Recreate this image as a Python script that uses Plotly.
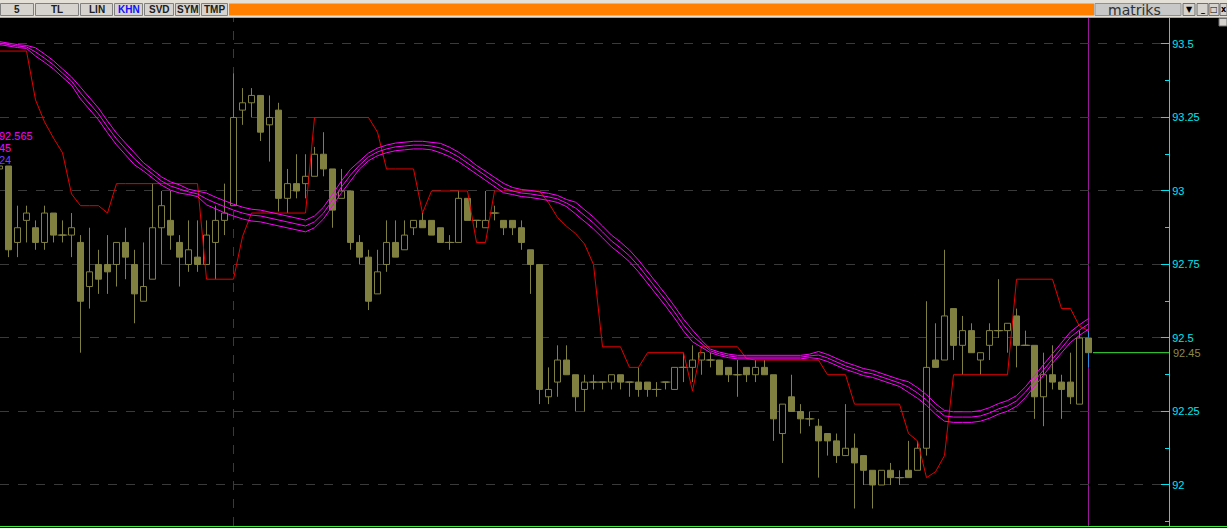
import plotly.graph_objects as go

# ---------------- data ----------------
bar_index = list(range(-1, 121))

opens = [93.075,
 93.085, 92.825, 92.90, 92.875, 92.825, 92.925, 92.85, 92.85, 92.825, 92.675,
 92.75, 92.75, 92.75, 92.825, 92.75, 92.625, 92.70, 92.875, 92.90, 92.825,
 92.75, 92.775, 92.75, 92.825, 92.90, 92.95, 93.275, 93.30, 93.325, 93.225,
 93.275, 92.975, 93.025, 93.025, 93.05, 93.125, 93.075, 92.975, 93.00, 92.825,
 92.775, 92.65, 92.75, 92.825, 92.80, 92.875, 92.90, 92.90, 92.875, 92.825,
 92.825, 92.975, 92.90, 92.875, 92.925, 92.90, 92.90, 92.875, 92.80, 92.75,
 92.30, 92.35, 92.425, 92.375, 92.325, 92.35, 92.35, 92.35, 92.375, 92.35,
 92.35, 92.35, 92.325, 92.35, 92.325, 92.40, 92.40, 92.425, 92.425, 92.425,
 92.40, 92.375, 92.40, 92.375, 92.40, 92.375, 92.175, 92.30, 92.25, 92.225,
 92.20, 92.175, 92.15, 92.10, 92.125, 92.10, 92.05, 92.00, 92.05, 92.025,
 92.05, 92.05, 92.125, 92.425, 92.425, 92.60, 92.475, 92.525, 92.425, 92.475,
 92.525, 92.525, 92.575, 92.475, 92.475, 92.30, 92.375, 92.35, 92.35, 92.275,
 92.50]

highs = [93.09,
 93.085, 92.95, 92.95, 92.90, 92.95, 92.925, 92.90, 92.925, 92.85, 92.875,
 92.80, 92.85, 92.825, 92.875, 92.80, 92.825, 93.025, 93.00, 93.00, 92.85,
 92.90, 92.90, 92.90, 92.95, 93.025, 93.40, 93.35, 93.35, 93.325, 93.325,
 93.30, 93.075, 93.125, 93.125, 93.15, 93.20, 93.075, 93.075, 93.00, 92.85,
 92.80, 92.80, 92.90, 92.90, 92.90, 92.90, 92.925, 92.90, 92.875, 92.85,
 93.00, 92.975, 92.90, 93.00, 92.95, 92.90, 92.90, 92.90, 92.80, 92.75,
 92.40, 92.475, 92.475, 92.375, 92.375, 92.375, 92.35, 92.375, 92.375, 92.35,
 92.40, 92.35, 92.35, 92.35, 92.40, 92.45, 92.475, 92.45, 92.45, 92.425,
 92.40, 92.425, 92.40, 92.425, 92.425, 92.375, 92.275, 92.375, 92.275, 92.25,
 92.225, 92.175, 92.175, 92.275, 92.175, 92.10, 92.05, 92.05, 92.075, 92.05,
 92.15, 92.15, 92.625, 92.55, 92.80, 92.60, 92.575, 92.55, 92.45, 92.55,
 92.70, 92.55, 92.60, 92.525, 92.475, 92.45, 92.475, 92.375, 92.45, 92.525,
 92.525]

lows = [93.07,
 92.775, 92.775, 92.825, 92.80, 92.80, 92.825, 92.825, 92.775, 92.45, 92.60,
 92.65, 92.65, 92.675, 92.70, 92.55, 92.625, 92.70, 92.75, 92.80, 92.675,
 92.725, 92.725, 92.75, 92.70, 92.85, 92.95, 93.225, 93.25, 93.17, 93.10,
 92.93, 92.925, 92.975, 92.975, 93.05, 93.05, 92.875, 92.975, 92.80, 92.75,
 92.595, 92.65, 92.725, 92.775, 92.80, 92.85, 92.875, 92.85, 92.825, 92.80,
 92.825, 92.90, 92.875, 92.875, 92.90, 92.85, 92.85, 92.80, 92.65, 92.275,
 92.275, 92.30, 92.375, 92.25, 92.25, 92.325, 92.325, 92.325, 92.325, 92.30,
 92.30, 92.30, 92.30, 92.325, 92.325, 92.35, 92.35, 92.375, 92.40, 92.375,
 92.35, 92.30, 92.35, 92.35, 92.375, 92.15, 92.075, 92.25, 92.175, 92.20,
 92.025, 92.10, 92.075, 92.10, 91.92, 92.00, 91.92, 92.00, 92.00, 92.00,
 92.025, 92.05, 92.10, 92.40, 92.425, 92.425, 92.375, 92.45, 92.375, 92.425,
 92.50, 92.45, 92.40, 92.475, 92.225, 92.20, 92.325, 92.225, 92.275, 92.275,
 92.40]

closes = [93.085,
 92.80, 92.875, 92.925, 92.825, 92.925, 92.85, 92.85, 92.875, 92.625, 92.725,
 92.70, 92.725, 92.825, 92.775, 92.65, 92.675, 92.875, 92.95, 92.85, 92.775,
 92.80, 92.75, 92.85, 92.90, 92.925, 93.25, 93.30, 93.325, 93.20, 93.25,
 92.975, 93.025, 93.00, 93.05, 93.125, 93.075, 92.935, 93.00, 92.825, 92.775,
 92.625, 92.725, 92.825, 92.775, 92.85, 92.90, 92.875, 92.85, 92.825, 92.825,
 92.975, 92.90, 92.90, 92.90, 92.925, 92.875, 92.875, 92.825, 92.75, 92.325,
 92.325, 92.425, 92.375, 92.30, 92.35, 92.35, 92.35, 92.375, 92.35, 92.35,
 92.325, 92.325, 92.325, 92.35, 92.40, 92.40, 92.425, 92.45, 92.425, 92.375,
 92.375, 92.375, 92.375, 92.40, 92.375, 92.225, 92.275, 92.25, 92.225, 92.225,
 92.15, 92.15, 92.10, 92.125, 92.075, 92.05, 92.00, 92.05, 92.025, 92.025,
 92.025, 92.125, 92.40, 92.40, 92.575, 92.475, 92.525, 92.45, 92.45, 92.525,
 92.525, 92.55, 92.475, 92.475, 92.30, 92.375, 92.35, 92.325, 92.30, 92.50,
 92.45]

# indicator values per bar (same bar_index)
band_mid = [93.503,
 93.497, 93.493, 93.490, 93.473, 93.452, 93.429, 93.401, 93.374, 93.333, 93.299,
 93.262, 93.218, 93.177, 93.143, 93.109, 93.082, 93.058, 93.034, 93.017, 93.007,
 92.997, 92.990, 92.973, 92.959, 92.946, 92.935, 92.925, 92.918, 92.915, 92.908,
 92.901, 92.895, 92.888, 92.881, 92.895, 92.925, 92.969, 93.014, 93.054, 93.088,
 93.116, 93.133, 93.143, 93.150, 93.153, 93.156, 93.156, 93.153, 93.146, 93.133,
 93.116, 93.095, 93.071, 93.051, 93.031, 93.010, 93.000, 92.993, 92.990, 92.986,
 92.980, 92.973, 92.959, 92.942, 92.918, 92.891, 92.861, 92.830, 92.806, 92.779,
 92.745, 92.707, 92.667, 92.629, 92.588, 92.544, 92.507, 92.480, 92.456, 92.446,
 92.439, 92.435, 92.435, 92.435, 92.435, 92.435, 92.435, 92.435, 92.435, 92.439,
 92.442, 92.432, 92.418, 92.405, 92.395, 92.384, 92.378, 92.367, 92.357, 92.347,
 92.333, 92.313, 92.289, 92.259, 92.235, 92.231, 92.231, 92.231, 92.235, 92.245,
 92.259, 92.269, 92.286, 92.316, 92.354, 92.391, 92.432, 92.469, 92.503, 92.527,
 92.548]

band_half = [0.005,
 0.005, 0.005, 0.005, 0.014, 0.014, 0.014, 0.014, 0.014, 0.020, 0.020,
 0.020, 0.020, 0.020, 0.020, 0.020, 0.014, 0.014, 0.014, 0.014, 0.014,
 0.009, 0.009, 0.020, 0.020, 0.020, 0.020, 0.020, 0.020, 0.020, 0.020,
 0.020, 0.020, 0.020, 0.020, 0.020, 0.020, 0.020, 0.020, 0.020, 0.013,
 0.013, 0.013, 0.013, 0.013, 0.013, 0.013, 0.013, 0.013, 0.016, 0.016,
 0.016, 0.016, 0.016, 0.016, 0.016, 0.016, 0.012, 0.012, 0.012, 0.012,
 0.012, 0.012, 0.012, 0.020, 0.020, 0.020, 0.020, 0.020, 0.020, 0.020,
 0.020, 0.020, 0.020, 0.020, 0.020, 0.020, 0.020, 0.012, 0.006, 0.006,
 0.006, 0.006, 0.006, 0.006, 0.006, 0.006, 0.006, 0.006, 0.006, 0.006,
 0.012, 0.012, 0.012, 0.012, 0.012, 0.012, 0.012, 0.012, 0.012, 0.012,
 0.018, 0.018, 0.018, 0.018, 0.018, 0.018, 0.018, 0.018, 0.018, 0.018,
 0.018, 0.018, 0.018, 0.018, 0.018, 0.018, 0.018, 0.018, 0.018, 0.018,
 0.018]

red_line = [93.476,
 93.476, 93.476, 93.476, 93.31, 93.235, 93.18, 93.13, 92.99, 92.95, 92.95,
 92.95, 92.925, 93.025, 93.025, 93.025, 93.025, 93.025, 93.025, 93.025, 93.025,
 93.025, 93.025, 92.70, 92.70, 92.70, 92.70, 92.845, 92.925, 92.925, 92.925,
 92.925, 92.925, 92.925, 92.925, 93.25, 93.25, 93.25, 93.25, 93.25, 93.25,
 93.25, 93.20, 93.075, 93.075, 93.075, 93.075, 92.925, 93.00, 93.00, 93.00,
 93.00, 93.00, 92.825, 92.825, 93.00, 93.00, 93.00, 93.00, 93.00, 93.00,
 92.96, 92.91, 92.88, 92.855, 92.82, 92.75, 92.47, 92.47, 92.47, 92.40,
 92.40, 92.45, 92.45, 92.45, 92.45, 92.45, 92.32, 92.47, 92.47, 92.47,
 92.47, 92.47, 92.43, 92.425, 92.425, 92.425, 92.425, 92.425, 92.425, 92.425,
 92.425, 92.375, 92.375, 92.375, 92.275, 92.275, 92.275, 92.275, 92.275, 92.275,
 92.175, 92.15, 92.025, 92.045, 92.10, 92.375, 92.375, 92.375, 92.375, 92.375,
 92.375, 92.375, 92.70, 92.70, 92.70, 92.70, 92.70, 92.60, 92.60, 92.54,
 92.525]

band_labels = ["92.565", "45", "24"]
y_ticks = [92.0, 92.25, 92.5, 92.75, 93.0, 93.25, 93.5]
y_tick_text = ["92", "92.25", "92.5", "92.75", "93", "93.25", "93.5"]
toolbar_buttons = ["5", "TL", "LIN", "KHN", "SVD", "SYM", "TMP"]
session_bar = 25

# ---------------- styling ----------------
OLIVE = "#808040"
CYAN = "#00e6f0"
MAGENTA = "#ff00ff"
RED = "#e60000"
GRID = "#3a3a3a"
W, H = 1227, 528
PL, PR, PT, PB = 0, 1169, 18, 526      # plot area in pixels
X_RANGE = [-0.9444, 128.9444]
Y_RANGE = [91.8605, 93.5884]
BODY_W = 0.667


def px(X):
    return (X - PL) / (PR - PL)


def py(Y):
    return (PB - Y) / (PB - PT)


fig = go.Figure()

# candle bodies
body_base = [min(o, c) for o, c in zip(opens, closes)]
body_len = [abs(c - o) for o, c in zip(opens, closes)]
body_fill = [OLIVE if c < o else "#000000" for o, c in zip(opens, closes)]
fig.add_trace(go.Bar(x=bar_index, y=body_len, base=body_base, width=BODY_W,
                     marker=dict(color=body_fill, line=dict(color=OLIVE, width=1)),
                     hoverinfo="skip", showlegend=False))

# wicks (outside the bodies)
wx, wy = [], []
for i, o, h, l, c in zip(bar_index[:-1], opens[:-1], highs[:-1], lows[:-1], closes[:-1]):
    top, bot = max(o, c), min(o, c)
    if h > top:
        wx += [i, i, None]
        wy += [h, top, None]
    if l < bot:
        wx += [i, i, None]
        wy += [bot, l, None]
fig.add_trace(go.Scatter(x=wx, y=wy, mode="lines", line=dict(color=OLIVE, width=1),
                         hoverinfo="skip", showlegend=False))

# doji crosses
dx = [i for i, o, c in zip(bar_index, opens, closes) if o == c]
dy = [o for o, c in zip(opens, closes) if o == c]
fig.add_trace(go.Scatter(x=dx, y=dy, mode="markers",
                         marker=dict(symbol="line-ew", size=7, line=dict(color=OLIVE, width=1)),
                         hoverinfo="skip", showlegend=False))

# blue wick of the live bar
lo_b, hi_b = min(opens[-1], closes[-1]), max(opens[-1], closes[-1])
fig.add_trace(go.Scatter(
    x=[bar_index[-1], bar_index[-1], None, bar_index[-1], bar_index[-1]],
    y=[highs[-1], hi_b, None, lo_b, lows[-1]],
    mode="lines", line=dict(color="#2b8be0", width=1), hoverinfo="skip", showlegend=False))

fig.add_trace(go.Scatter(x=bar_index, y=red_line, mode="lines",
                         line=dict(color=RED, width=1), hoverinfo="skip", showlegend=False))
upper = [m + h for m, h in zip(band_mid, band_half)]
lower = [m - h for m, h in zip(band_mid, band_half)]
for series in (upper, band_mid, lower):
    fig.add_trace(go.Scatter(x=bar_index, y=series, mode="lines",
                             line=dict(color=MAGENTA, width=1), hoverinfo="skip", showlegend=False))

shapes = []
# session separator and live-bar marker
shapes.append(dict(type="line", xref="x", yref="paper", x0=session_bar, x1=session_bar, y0=0, y1=1,
                   line=dict(color=GRID, width=1, dash="dash"), layer="below"))
shapes.append(dict(type="line", xref="x", yref="paper", x0=bar_index[-1], x1=bar_index[-1], y0=0, y1=1,
                   line=dict(color="#9a189a", width=1), layer="below"))
# last price line
shapes.append(dict(type="line", xref="x", yref="y", x0=bar_index[-1] + 0.5, x1=X_RANGE[1],
                   y0=closes[-1], y1=closes[-1], line=dict(color="#3ce63c", width=1)))
# toolbar
shapes.append(dict(type="rect", xref="paper", yref="paper", x0=0, x1=px(W), y0=py(17), y1=py(0),
                   fillcolor="#e4e0d8", line=dict(width=0)))
# frame lines
shapes.append(dict(type="line", xref="paper", yref="paper", x0=0, x1=px(W), y0=py(17.5), y1=py(17.5),
                   line=dict(color="#3cf03c", width=1)))
shapes.append(dict(type="line", xref="paper", yref="paper", x0=0, x1=px(W), y0=py(526.5), y1=py(526.5),
                   line=dict(color="#3cf03c", width=1)))
btn_x = [(0, 34), (35, 79), (80, 113), (114, 143), (144, 174), (175, 200), (201, 228)]
annotations = []


def label(X, Y, text, size, color, family="Liberation Sans", xanchor="center"):
    annotations.append(dict(xref="paper", yref="paper", x=px(X), y=py(Y), text=text, showarrow=False,
                            xanchor=xanchor, yanchor="middle",
                            font=dict(family=family, size=size, color=color)))


for (a, b), name in zip(btn_x, toolbar_buttons):
    shapes.append(dict(type="rect", xref="paper", yref="paper", x0=px(a + 0.5), x1=px(b - 0.5),
                       y0=py(15.5), y1=py(3.5), fillcolor="#d6d3ce", line=dict(color="#808080", width=1)))
    label((a + b) / 2, 9.5, "<b>%s</b>" % name, 10, "#1010ff" if name == "KHN" else "#202020")
shapes.append(dict(type="rect", xref="paper", yref="paper", x0=px(229), x1=px(1094), y0=py(15.5), y1=py(3.5),
                   fillcolor="#ff8000", line=dict(width=0)))
shapes.append(dict(type="rect", xref="paper", yref="paper", x0=px(1095), x1=px(1181), y0=py(15.5), y1=py(3.5),
                   fillcolor="#c8c8c8", line=dict(color="#909090", width=1)))
label(1134, 9.5, "matriks", 14, "#303030", family="DejaVu Sans")
for (a, b, sym) in [(1183, 1195, "▼"), (1197, 1208, "_"), (1209, 1219, "□"), (1220, 1227, "x")]:
    shapes.append(dict(type="rect", xref="paper", yref="paper", x0=px(a), x1=px(b), y0=py(15.5), y1=py(3.5),
                       fillcolor="#d6d3ce", line=dict(color="#707070", width=1)))
    label((a + b) / 2, 9.5, "<b>%s</b>" % sym, 8, "#000000", family="DejaVu Sans")
shapes.append(dict(type="rect", xref="paper", yref="paper", x0=px(1219), x1=px(1227), y0=py(26), y1=py(18.5),
                   fillcolor="#d6d3ce", line=dict(color="#707070", width=1)))

# left indicator value labels
for text, Y, Xr, col in zip(band_labels, [136, 148, 160.5], [35, 13, 13], [MAGENTA, MAGENTA, "#7a3cff"]):
    label(Xr, Y, text, 11, col, xanchor="right")
# live price tag
annotations.append(dict(xref="paper", yref="y", x=1, xshift=2, y=closes[-1], xanchor="left", yanchor="middle",
                        text="%.2f" % closes[-1], showarrow=False,
                        font=dict(family="Liberation Sans", size=11, color="#8a8a4a")))

fig.update_layout(
    width=W, height=H, margin=dict(l=PL, r=W - PR, t=PT, b=H - PB, pad=0),
    paper_bgcolor="#000000", plot_bgcolor="#000000", showlegend=False, hovermode=False,
    barmode="overlay",
    xaxis=dict(range=X_RANGE, visible=False, showgrid=False, zeroline=False),
    yaxis=dict(side="right", range=Y_RANGE, tickmode="array", tickvals=y_ticks, ticktext=y_tick_text,
               ticks="inside", ticklen=8, tickwidth=1, tickcolor=CYAN,
               showline=True, linecolor=CYAN, linewidth=1, mirror=False,
               showgrid=True, gridcolor=GRID, griddash="dash", gridwidth=1, zeroline=False,
               tickfont=dict(family="Liberation Sans", size=11, color=CYAN),
               minor=dict(ticks="inside", ticklen=4, tickcolor=CYAN, tickmode="linear", tick0=92.125,
                          dtick=0.25, showgrid=False)),
    shapes=shapes, annotations=annotations,
)

fig.write_html("out.html", config={"displayModeBar": False},
               post_script="document.body.style.margin='0px';document.body.style.overflow='hidden';"
                           "document.body.style.background='#000000';")
